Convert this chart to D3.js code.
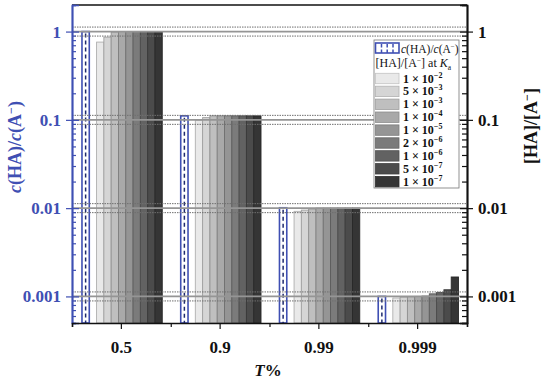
<!DOCTYPE html>
<html><head><meta charset="utf-8">
<script src="https://cdn.jsdelivr.net/npm/d3@7"></script>
<style>
html,body{margin:0;padding:0;background:#fff;}
svg{display:block;font-family:"Liberation Serif","Times New Roman",serif;}
</style></head>
<body><svg id="c" width="542" height="382"></svg>
<script>
// ---- data ----
const categories = ["0.5", "0.9", "0.99", "0.999"];
const cRatio = [1, 0.111, 0.0101, 0.001];           // c(HA)/c(A-)
const kaLabels = [["1","−2"],["5","−3"],["1","−3"],["1","−4"],["1","−5"],["2","−6"],["1","−6"],["5","−7"],["1","−7"]];
const ka1 = [0.76, 0.099, 0.0092, 0.00096];
const ka2 = [0.865, 0.106, 0.0095, 0.00098];
const ka3 = [0.985, 0.111, 0.0098, 0.00099];
const ka4 = [1, 0.111, 0.0100, 0.00100];
const ka5 = [1, 0.111, 0.0100, 0.00101];
const ka6 = [1, 0.111, 0.0100, 0.00107];
const ka7 = [1, 0.111, 0.0100, 0.00111];
const ka8 = [1, 0.111, 0.0100, 0.00119];
const ka9 = [1, 0.111, 0.0100, 0.00166];
const kaSeries = [ka1, ka2, ka3, ka4, ka5, ka6, ka7, ka8, ka9];
const grays = ["#e9e9e9","#d5d5d5","#bfbfbf","#a9a9a9","#959595","#7b7b7b","#626262","#4b4b4b","#353535"];
const majorTicks = [0.001, 0.01, 0.1, 1];

// ---- layout ----
const L = 72, R = 467, T = 5, B = 323;
const blue = "#3f4fb3";
const svg = d3.select("#c");

const x = d3.scaleBand().domain(categories).range([L, R]).paddingInner(0).paddingOuter(0);
const bw = x.bandwidth();
const sub = d3.scaleBand().domain(d3.range(11)).range([bw * 0.101, bw * 0.914]);
const y = d3.scaleLog().domain([0.0005, 2]).range([B, T]);

const minorTicks = [];
[0.0001, 0.001, 0.01, 0.1, 1].forEach(d => { for (let m = 2; m <= 9; m++) { const v = m * d; if (v >= 0.0005 && v <= 2.0001) minorTicks.push(v); } });

// ---- bars ----
const gBars = svg.append("g");
categories.forEach((c, ci) => {
  const x0 = x(c);
  const bx = x0 + sub(0), bwid = sub.bandwidth();
  gBars.append("rect").attr("x", bx).attr("y", y(cRatio[ci])).attr("width", bwid)
    .attr("height", B - y(cRatio[ci])).attr("fill", "#fff").attr("stroke", blue).attr("stroke-width", 1.6);
  gBars.append("line").attr("x1", bx + bwid / 2).attr("x2", bx + bwid / 2)
    .attr("y1", y(cRatio[ci]) + 2).attr("y2", B).attr("stroke", "#1e2a6e").attr("stroke-width", 1.5)
    .attr("stroke-dasharray", "4,3");
  kaSeries.forEach((s, k) => {
    gBars.append("rect").attr("x", x0 + sub(k + 2)).attr("y", y(s[ci])).attr("width", sub.bandwidth())
      .attr("height", B - y(s[ci])).attr("fill", grays[k])
      .attr("stroke", d3.color(grays[k]).darker(0.8)).attr("stroke-width", 0.9);
  });
});

// ---- grid ----
const gGrid = svg.append("g");
majorTicks.forEach(v => {
  gGrid.append("line").attr("x1", L).attr("x2", R).attr("y1", y(v)).attr("y2", y(v))
    .attr("stroke", "#959595").attr("stroke-width", 1.8);
  [-4.5, 4.5].forEach(o => gGrid.append("line").attr("x1", L).attr("x2", R)
    .attr("y1", y(v) + o).attr("y2", y(v) + o).attr("stroke", "#6f6f6f")
    .attr("stroke-width", 1).attr("stroke-dasharray", "1.5,1"));
});

// ---- legend ----
const lg = svg.append("g");
lg.append("rect").attr("x", 374).attr("y", 40).attr("width", 85).attr("height", 148)
  .attr("fill", "#fff").attr("stroke", "#777").attr("stroke-width", 0.8);
lg.append("rect").attr("x", 375.5).attr("y", 43).attr("width", 23.5).attr("height", 10)
  .attr("fill", "#fff").attr("stroke", blue).attr("stroke-width", 1.6);
[381.5, 387.2, 393].forEach(xx => lg.append("line").attr("x1", xx).attr("x2", xx).attr("y1", 44).attr("y2", 53)
  .attr("stroke", blue).attr("stroke-width", 1.5).attr("stroke-dasharray", "3.5,2"));
const t1 = lg.append("text").attr("x", 401).attr("y", 52.5).attr("font-size", 11.5).attr("fill", "#111");
t1.append("tspan").attr("font-style", "italic").text("c");
t1.append("tspan").text("(HA)/");
t1.append("tspan").attr("font-style", "italic").text("c");
t1.append("tspan").text("(A");
t1.append("tspan").attr("dy", -4).attr("font-size", 7).text("−");
t1.append("tspan").attr("dy", 4).text(")");
const t2 = lg.append("text").attr("x", 375.5).attr("y", 66.5).attr("font-size", 12).attr("fill", "#111");
t2.append("tspan").text("[HA]/[A");
t2.append("tspan").attr("dy", -4).attr("font-size", 7.5).text("−");
t2.append("tspan").attr("dy", 4).text("] at ");
t2.append("tspan").attr("font-style", "italic").text("K");
t2.append("tspan").attr("dy", 3).attr("font-size", 7.5).text("a");
kaLabels.forEach((lab, k) => {
  const cy = 78.5 + k * 12.9;
  lg.append("rect").attr("x", 375.5).attr("y", cy - 5.2).attr("width", 23.5).attr("height", 10.4)
    .attr("fill", grays[k]).attr("stroke", d3.color(grays[k]).darker(0.5)).attr("stroke-width", 0.8);
  const tt = lg.append("text").attr("x", 403).attr("y", cy + 4).attr("font-size", 12)
    .attr("font-weight", "bold").attr("fill", "#111");
  tt.append("tspan").text(lab[0] + " × 10");
  tt.append("tspan").attr("dy", -5).attr("font-size", 8).text(lab[1]);
});

// ---- axes ----
svg.append("line").attr("x1", L).attr("x2", R).attr("y1", T).attr("y2", T).attr("stroke", "#111").attr("stroke-width", 1.5);

function styleAxis(g, col) {
  g.select(".domain").attr("stroke", col).attr("stroke-width", 1.5);
  g.selectAll(".tick line").attr("stroke", col).attr("stroke-width", 1.2);
}
// left axis
const gl = svg.append("g").attr("transform", `translate(${L},0)`);
gl.append("g").call(d3.axisLeft(y).tickValues(minorTicks).tickSize(-4).tickFormat("")).call(g => styleAxis(g, blue));
gl.append("g").call(d3.axisLeft(y).tickValues(majorTicks).tickSize(-7).tickFormat("")).call(g => styleAxis(g, blue));
const glm = gl.append("g").call(d3.axisLeft(y).tickValues(majorTicks).tickSizeInner(6).tickSizeOuter(0).tickPadding(5)
  .tickFormat(d3.format("~g")));
styleAxis(glm, blue);
glm.selectAll("text").attr("font-family", "Liberation Serif").attr("font-size", 17).attr("font-weight", "bold").attr("fill", blue);

// right axis
const gr = svg.append("g").attr("transform", `translate(${R},0)`);
gr.append("g").call(d3.axisRight(y).tickValues(minorTicks).tickSize(-5).tickFormat("")).call(g => styleAxis(g, "#111"));
gr.append("g").call(d3.axisRight(y).tickValues(majorTicks).tickSize(-7).tickFormat("")).call(g => styleAxis(g, "#111"));
const grm = gr.append("g").call(d3.axisRight(y).tickValues(majorTicks).tickSizeInner(6).tickSizeOuter(0).tickPadding(5)
  .tickFormat(d3.format("~g")));
styleAxis(grm, "#111");
grm.selectAll("text").attr("font-family", "Liberation Serif").attr("font-size", 17).attr("font-weight", "bold").attr("fill", "#111");

// bottom axis
const gb = svg.append("g").attr("transform", `translate(0,${B})`);
const bounds = categories.map(c => x(c)).concat([R]);
gb.append("g").call(d3.axisBottom(d3.scaleLinear().domain([L, R]).range([L, R])).tickValues(bounds).tickSize(4).tickFormat(""))
  .call(g => styleAxis(g, "#111"));
const gbm = gb.append("g").call(d3.axisBottom(x).tickSizeInner(6).tickSizeOuter(0).tickPadding(12));
styleAxis(gbm, "#111");
gbm.select(".domain").remove();
gbm.selectAll("text").attr("font-family", "Liberation Serif").attr("font-size", 17).attr("font-weight", "bold").attr("fill", "#111");

// axis titles
const xt = svg.append("text").attr("x", 268).attr("y", 376).attr("text-anchor", "middle")
  .attr("font-size", 17).attr("font-weight", "bold").attr("fill", "#111");
xt.append("tspan").attr("font-style", "italic").text("T");
xt.append("tspan").text("%");

const ytl = svg.append("text").attr("transform", "translate(21,147) rotate(-90)").attr("text-anchor", "middle")
  .attr("font-size", 18).attr("font-weight", "bold").attr("fill", blue);
ytl.append("tspan").attr("font-style", "italic").text("c");
ytl.append("tspan").text("(HA)/");
ytl.append("tspan").attr("font-style", "italic").text("c");
ytl.append("tspan").text("(A");
ytl.append("tspan").attr("dy", -6).attr("font-size", 12).text("−");
ytl.append("tspan").attr("dy", 6).text(")");

const ytr = svg.append("text").attr("transform", "translate(537,126) rotate(-90)").attr("text-anchor", "middle")
  .attr("font-size", 18).attr("font-weight", "bold").attr("fill", "#111");
ytr.append("tspan").text("[HA]/[A");
ytr.append("tspan").attr("dy", -6).attr("font-size", 12).text("−");
ytr.append("tspan").attr("dy", 6).text("]");
</script></body></html>
